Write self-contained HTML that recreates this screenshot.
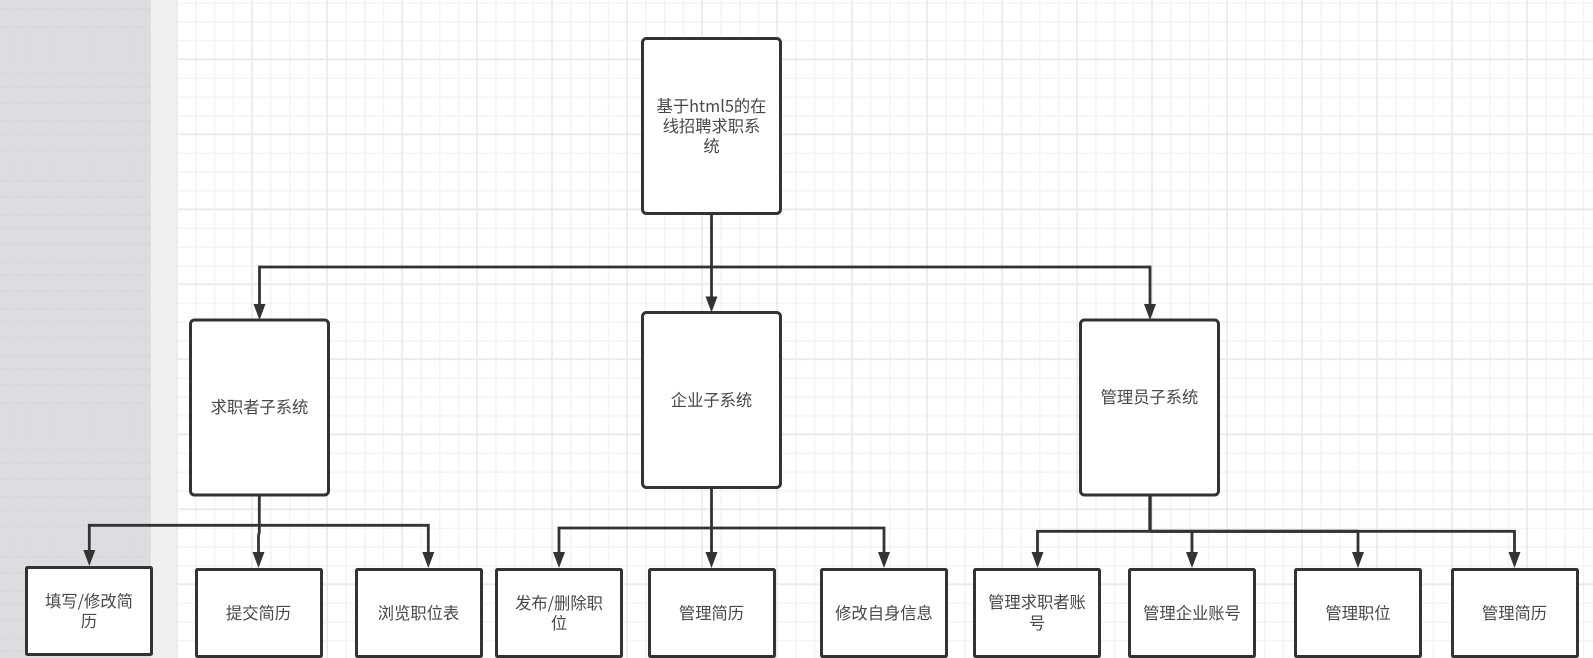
<!DOCTYPE html>
<html lang="zh">
<head>
<meta charset="utf-8">
<title>基于html5的在线招聘求职系统</title>
<style>
html,body{margin:0;padding:0;width:1593px;height:658px;overflow:hidden;background:#fff}
svg{display:block}
text{font-family:"Liberation Sans","Noto Sans CJK SC","WenQuanYi Zen Hei",sans-serif;font-size:16.3px;fill:#484848;text-anchor:middle}
text.n{font-family:"Noto Sans CJK SC","Liberation Sans",sans-serif}
</style>
</head>
<body>
<svg width="1593" height="658" viewBox="0 0 1593 658" xmlns="http://www.w3.org/2000/svg">
<defs>
<pattern id="minor" x="176.5" y="2.7" width="18.75" height="18.75" patternUnits="userSpaceOnUse">
<path d="M0.7 0V18.75M0 0.7H18.75" fill="none" stroke="#f3f3f3" stroke-width="1.4"/>
</pattern>
<pattern id="major" x="176.3" y="58.4" width="75" height="75" patternUnits="userSpaceOnUse">
<path d="M0.7 0V75M0 0.7H75" fill="none" stroke="#e8e8e8" stroke-width="1.4"/>
</pattern>
<pattern id="weave" width="53" height="47" patternUnits="userSpaceOnUse">
<rect width="53" height="47" fill="#dcdde1"/>
<path d="M6 0V47M19 0V47M33 0V47M46 0V47" stroke="#dfe0e3" stroke-width="1.5"/>
<path d="M0 9H53M0 27H53M0 40H53" stroke="#d9dade" stroke-width="1.5"/>
</pattern>
</defs>

<rect x="0" y="0" width="151" height="658" fill="url(#weave)"/>
<rect x="151" y="0" width="26" height="658" fill="#f0f0f0"/>
<rect x="176.5" y="0" width="1417" height="658" fill="#fff"/>
<rect x="176.5" y="0" width="1417" height="658" fill="url(#minor)"/>
<rect x="176.5" y="0" width="1417" height="658" fill="url(#major)"/>

<g fill="none" stroke="#333" stroke-width="2.8">
<path d="M711.5 214V298"/>
<path d="M259.5 306V267H1150V306"/>
<path d="M259.3 495V525.3"/>
<path d="M89.3 552V525.3H428.3V554"/>
<path d="M259.3 525.3V532L258.5 536V554"/>
<path d="M711.5 488V554"/>
<path d="M559 554V528H884V554"/>
<path d="M1150 495V531.3" stroke-width="3.4"/>
<path d="M1037.5 556V531.3H1514.5V556"/>
<path d="M1150 531.3H1358" stroke-width="3.2"/>
<path d="M1192 531.3V556M1358 531.3V556"/>
</g>

<g fill="#333">
<path d="M711.5 312.5L705.5 296.5H717.5Z"/>
<path d="M259.5 320L253.5 304H265.5Z"/>
<path d="M1150 320L1144 304H1156Z"/>
<path d="M89.3 566L83.3 550H95.3Z"/>
<path d="M258.5 568L252.5 552H264.5Z"/>
<path d="M428.3 568L422.3 552H434.3Z"/>
<path d="M559 568L553 552H565Z"/>
<path d="M711.5 568L705.5 552H717.5Z"/>
<path d="M884 568L878 552H890Z"/>
<path d="M1037.5 568L1031.5 552H1043.5Z"/>
<path d="M1192 568L1186 552H1198Z"/>
<path d="M1358 568L1352 552H1364Z"/>
<path d="M1514.5 568L1508.5 552H1520.5Z"/>
</g>

<g fill="#fff" stroke="#333" stroke-width="3">
<rect x="642.5" y="38.5" width="138" height="175" rx="4"/>
<rect x="642.5" y="312.5" width="138" height="175" rx="4"/>
<rect x="190.5" y="320" width="138" height="175" rx="4"/>
<rect x="1080.5" y="320" width="138" height="175" rx="4"/>
<rect x="26.5" y="567.5" width="125" height="87" rx="1"/>
<rect x="196.5" y="569.5" width="125" height="87" rx="1"/>
<rect x="356.5" y="569.5" width="125" height="87" rx="1"/>
<rect x="496.5" y="569.5" width="125" height="87" rx="1"/>
<rect x="649.5" y="569.5" width="125" height="87" rx="1"/>
<rect x="821.5" y="569.5" width="125" height="87" rx="1"/>
<rect x="974.5" y="569.5" width="125" height="87" rx="1"/>
<rect x="1129.5" y="569.5" width="125" height="87" rx="1"/>
<rect x="1295.5" y="569.5" width="125" height="87" rx="1"/>
<rect x="1452.5" y="569.5" width="125" height="87" rx="1"/>
</g>

<text class="n" x="711.5" y="112">基于html5的在</text>
<text x="711.5" y="132">线招聘求职系</text>
<text x="711.5" y="152">统</text>
<text x="259.5" y="413">求职者子系统</text>
<text x="711.5" y="406">企业子系统</text>
<text x="1149.5" y="403">管理员子系统</text>
<text class="n" x="89" y="607">填写/修改简</text>
<text x="89" y="627">历</text>
<text x="258.5" y="619">提交简历</text>
<text x="418.5" y="619">浏览职位表</text>
<text class="n" x="559" y="609">发布/删除职</text>
<text x="559" y="629">位</text>
<text x="711.5" y="619">管理简历</text>
<text x="884" y="619">修改自身信息</text>
<text x="1037" y="608">管理求职者账</text>
<text x="1037" y="629">号</text>
<text x="1192" y="619">管理企业账号</text>
<text x="1358" y="619">管理职位</text>
<text x="1514.5" y="619">管理简历</text>
</svg>
</body>
</html>
